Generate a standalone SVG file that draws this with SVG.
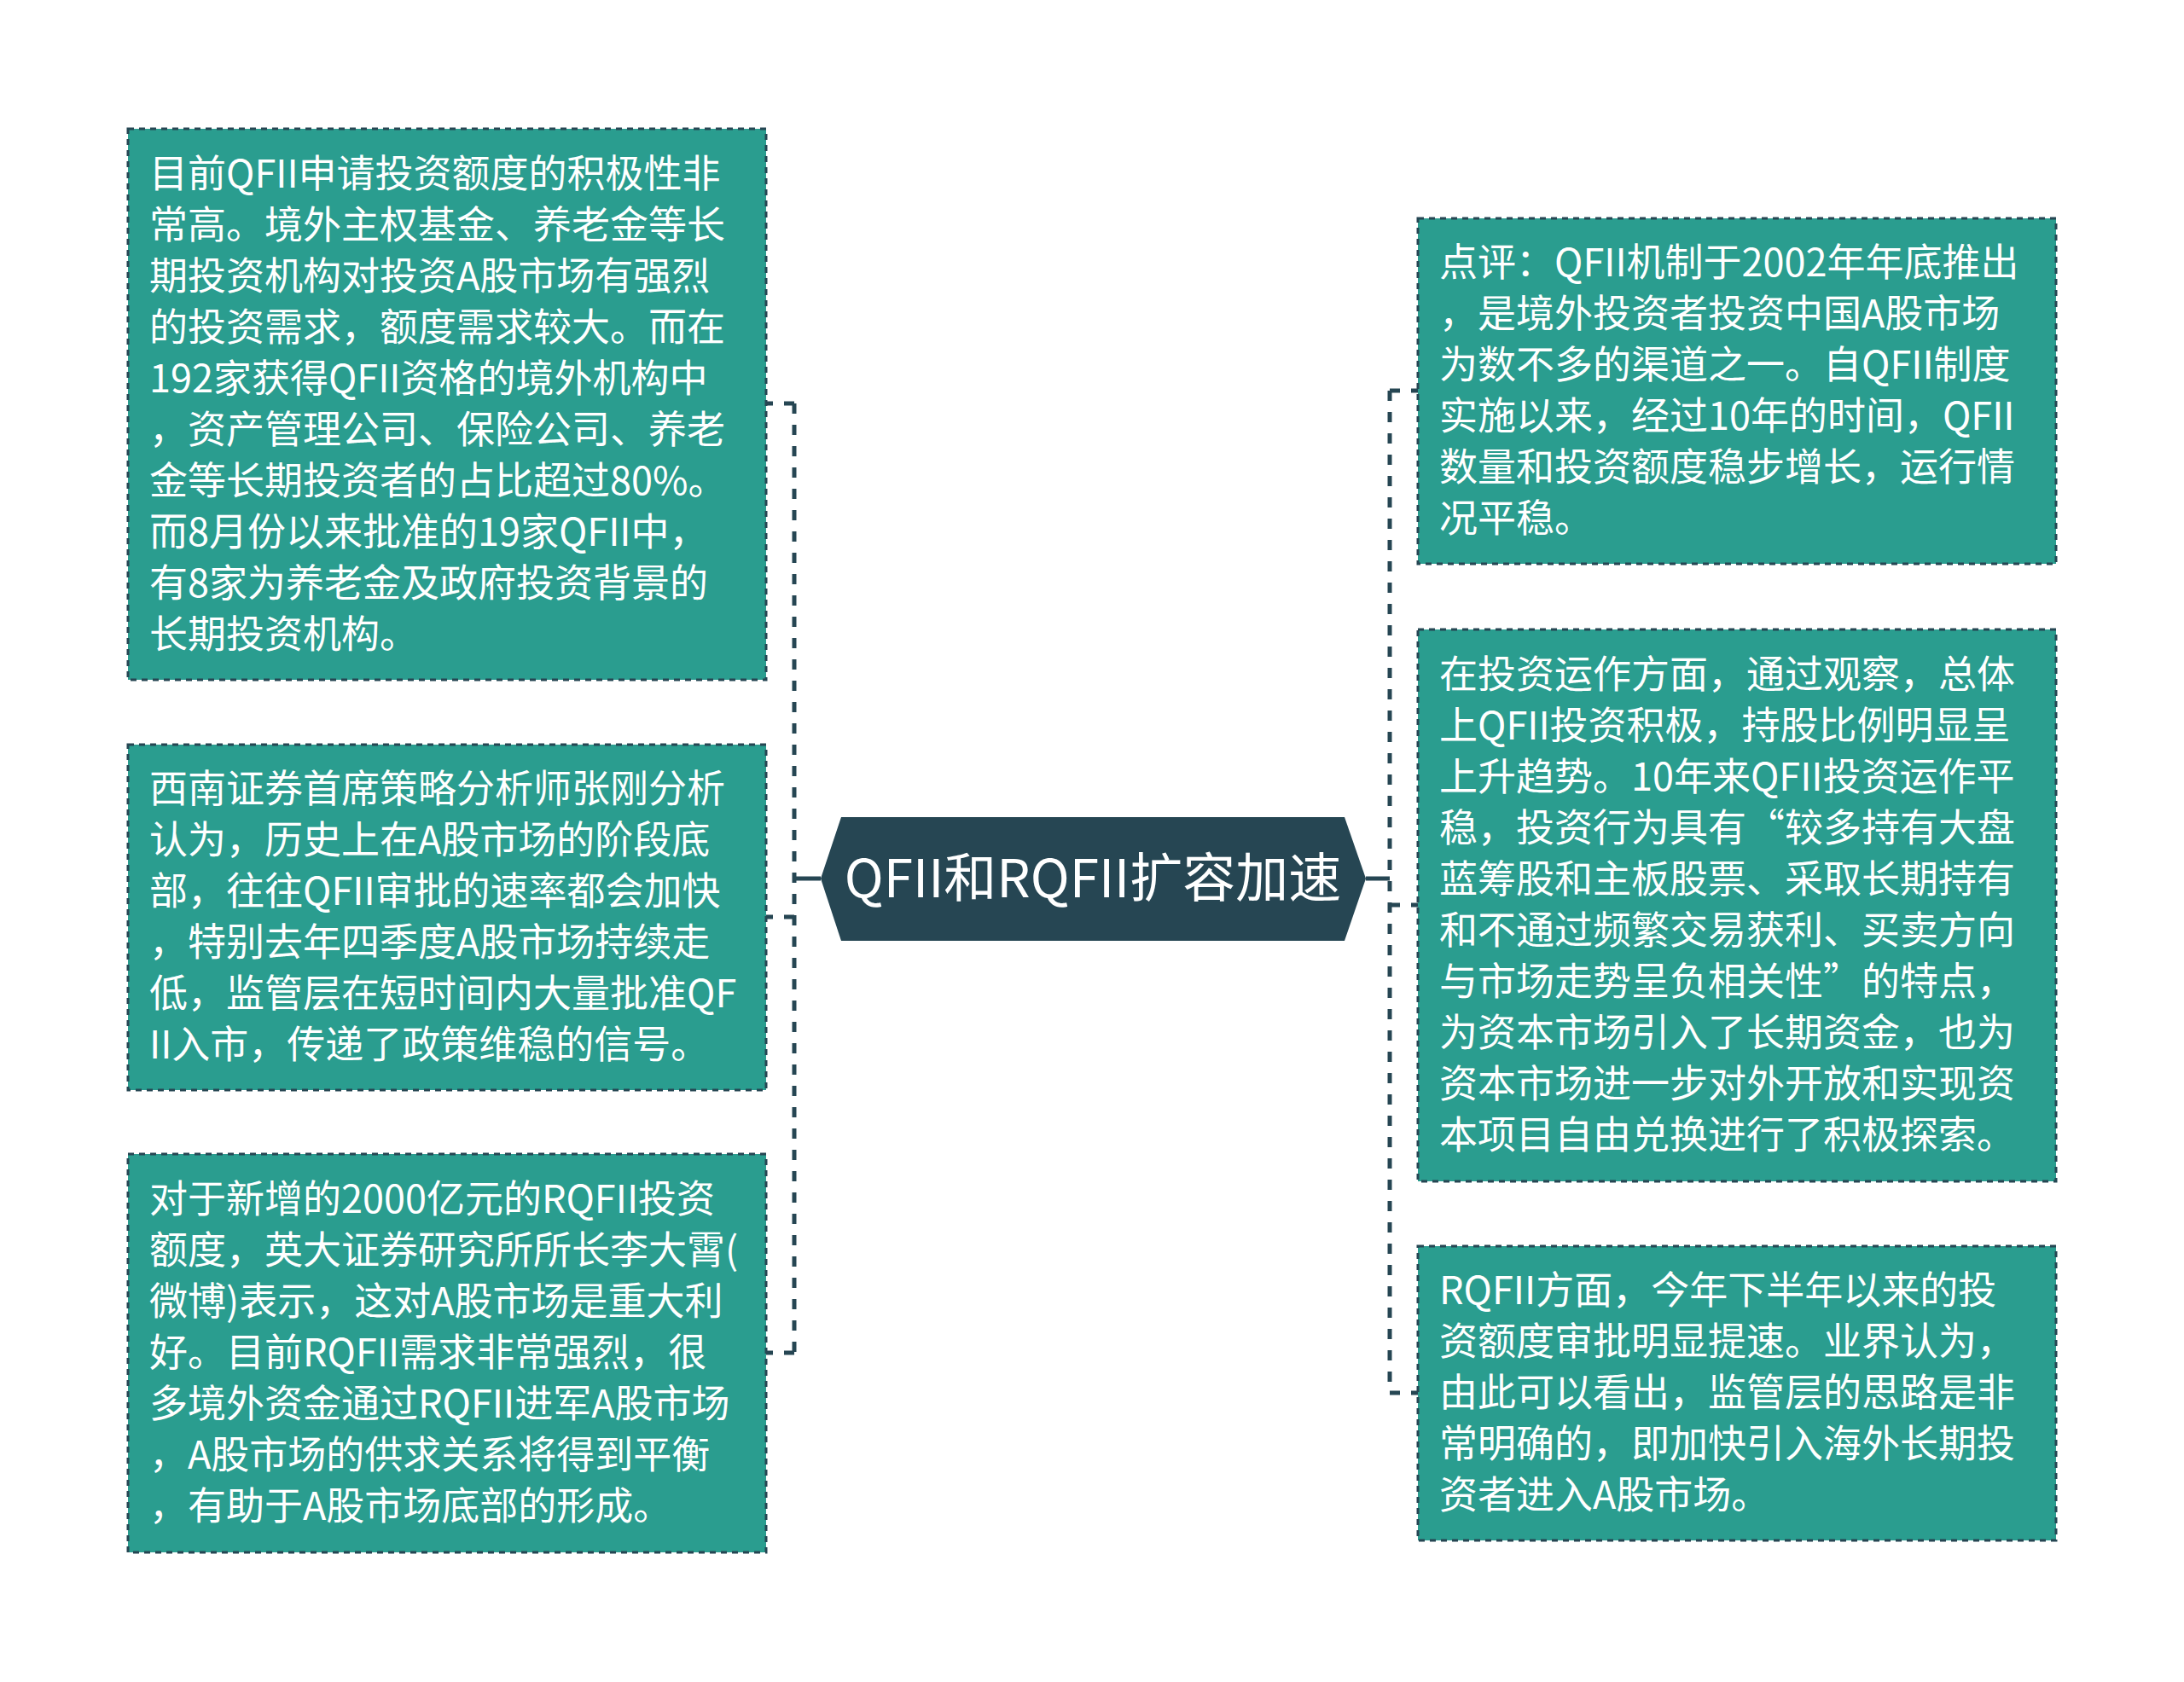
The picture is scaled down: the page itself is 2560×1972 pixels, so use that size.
<svg xmlns="http://www.w3.org/2000/svg" width="2560" height="1972" viewBox="0 0 2560 1972">
<style>
.box{fill:#2a9d8f;stroke:#264653;stroke-width:3;stroke-dasharray:7 6}
.t{font-family:"Noto Sans CJK SC","Noto Sans",sans-serif;font-size:45px;fill:#ffffff}
.c{fill:none;stroke:#264653;stroke-width:5}
.d{stroke-dasharray:12 13}
.title{font-family:"Noto Sans CJK SC","Noto Sans",sans-serif;font-size:62px;fill:#ffffff;text-anchor:middle}
</style>
<rect width="2560" height="1972" fill="#ffffff"/>
<g id="connectors">
<path class="c d" d="M931 473V1586M931 473H898M931 1075H898M931 1586H898"/>
<path class="c" d="M962 1030H931"/>
<path class="c d" d="M1629 458V1633M1629 458H1662M1629 1061H1662M1629 1633H1662"/>
<path class="c" d="M1601 1030H1629"/>
</g>
<g id="root">
<polygon points="962,1030 986,958 1576,958 1601,1030 1576,1103 986,1103" fill="#264653"/>
<text class="title" x="1281" y="1052">QFII和RQFII扩容加速</text>
</g>
<g id="left1">
<rect class="box" x="150" y="151" width="748" height="646"/>
<text class="t" x="175" y="220">目前QFII申请投资额度的积极性非</text>
<text class="t" x="175" y="280">常高。境外主权基金、养老金等长</text>
<text class="t" x="175" y="340">期投资机构对投资A股市场有强烈</text>
<text class="t" x="175" y="400">的投资需求，额度需求较大。而在</text>
<text class="t" x="175" y="460">192家获得QFII资格的境外机构中</text>
<text class="t" x="175" y="520">，资产管理公司、保险公司、养老</text>
<text class="t" x="175" y="580">金等长期投资者的占比超过80%。</text>
<text class="t" x="175" y="640">而8月份以来批准的19家QFII中，</text>
<text class="t" x="175" y="700">有8家为养老金及政府投资背景的</text>
<text class="t" x="175" y="760">长期投资机构。</text>
</g>
<g id="left2">
<rect class="box" x="150" y="873" width="748" height="405"/>
<text class="t" x="175" y="941">西南证券首席策略分析师张刚分析</text>
<text class="t" x="175" y="1001">认为，历史上在A股市场的阶段底</text>
<text class="t" x="175" y="1061">部，往往QFII审批的速率都会加快</text>
<text class="t" x="175" y="1121">，特别去年四季度A股市场持续走</text>
<text class="t" x="175" y="1181">低，监管层在短时间内大量批准QF</text>
<text class="t" x="175" y="1241">II入市，传递了政策维稳的信号。</text>
</g>
<g id="left3">
<rect class="box" x="150" y="1353" width="748" height="467"/>
<text class="t" x="175" y="1422">对于新增的2000亿元的RQFII投资</text>
<text class="t" x="175" y="1482">额度，英大证券研究所所长李大霄(</text>
<text class="t" x="175" y="1542">微博)表示，这对A股市场是重大利</text>
<text class="t" x="175" y="1602">好。目前RQFII需求非常强烈，很</text>
<text class="t" x="175" y="1662">多境外资金通过RQFII进军A股市场</text>
<text class="t" x="175" y="1722">，A股市场的供求关系将得到平衡</text>
<text class="t" x="175" y="1782">，有助于A股市场底部的形成。</text>
</g>
<g id="right1">
<rect class="box" x="1662" y="256" width="748" height="405"/>
<text class="t" x="1687" y="324">点评：QFII机制于2002年年底推出</text>
<text class="t" x="1687" y="384">，是境外投资者投资中国A股市场</text>
<text class="t" x="1687" y="444">为数不多的渠道之一。自QFII制度</text>
<text class="t" x="1687" y="504">实施以来，经过10年的时间，QFII</text>
<text class="t" x="1687" y="564">数量和投资额度稳步增长，运行情</text>
<text class="t" x="1687" y="624">况平稳。</text>
</g>
<g id="right2">
<rect class="box" x="1662" y="738" width="748" height="647"/>
<text class="t" x="1687" y="807">在投资运作方面，通过观察，总体</text>
<text class="t" x="1687" y="867">上QFII投资积极，持股比例明显呈</text>
<text class="t" x="1687" y="927">上升趋势。10年来QFII投资运作平</text>
<text class="t" x="1687" y="987">稳，投资行为具有“较多持有大盘</text>
<text class="t" x="1687" y="1047">蓝筹股和主板股票、采取长期持有</text>
<text class="t" x="1687" y="1107">和不通过频繁交易获利、买卖方向</text>
<text class="t" x="1687" y="1167">与市场走势呈负相关性”的特点，</text>
<text class="t" x="1687" y="1227">为资本市场引入了长期资金，也为</text>
<text class="t" x="1687" y="1287">资本市场进一步对外开放和实现资</text>
<text class="t" x="1687" y="1347">本项目自由兑换进行了积极探索。</text>
</g>
<g id="right3">
<rect class="box" x="1662" y="1461" width="748" height="345"/>
<text class="t" x="1687" y="1529">RQFII方面，今年下半年以来的投</text>
<text class="t" x="1687" y="1589">资额度审批明显提速。业界认为，</text>
<text class="t" x="1687" y="1649">由此可以看出，监管层的思路是非</text>
<text class="t" x="1687" y="1709">常明确的，即加快引入海外长期投</text>
<text class="t" x="1687" y="1769">资者进入A股市场。</text>
</g>
</svg>
